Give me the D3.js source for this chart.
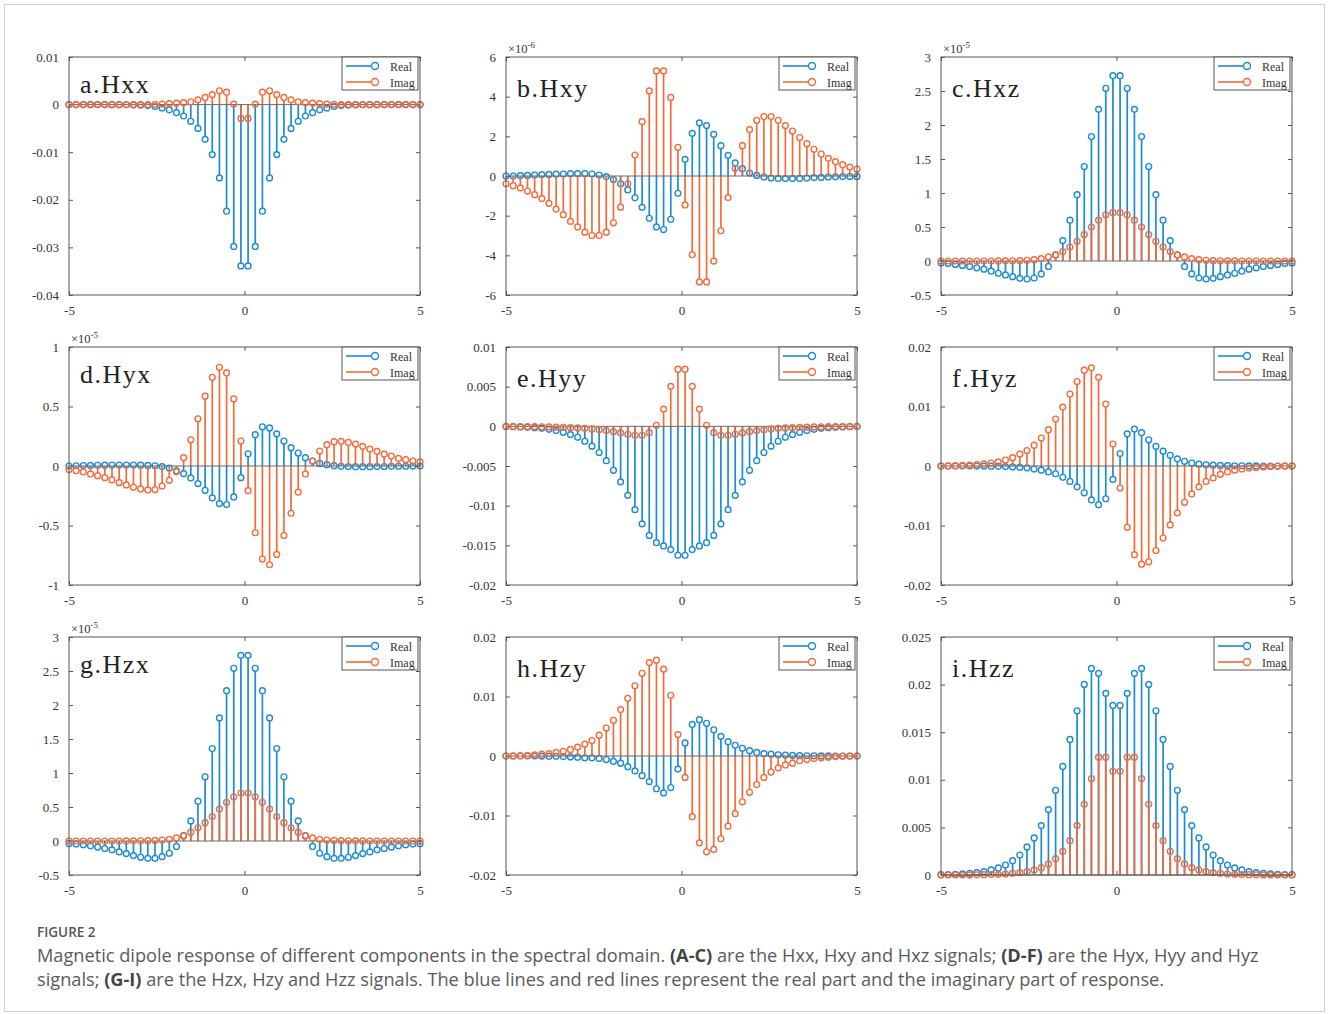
<!DOCTYPE html>
<html>
<head>
<meta charset="utf-8">
<script src="https://cdn.jsdelivr.net/npm/d3@7"></script>
<style>
  body { margin: 0; background: #fff; }
  svg { display: block; }
</style>
</head>
<body>
<svg id="fig" width="1328" height="1014"></svg>
<script>
// Spectral-domain sample positions (50 samples across [-5, 5])
const xGrid = [-5, -4.7959, -4.5918, -4.3878, -4.1837, -3.9796, -3.7755, -3.5714, -3.3673, -3.1633,
  -2.9592, -2.7551, -2.551, -2.3469, -2.1429, -1.9388, -1.7347, -1.5306, -1.3265, -1.1224,
  -0.9184, -0.7143, -0.5102, -0.3061, -0.102, 0.102, 0.3061, 0.5102, 0.7143, 0.9184,
  1.1224, 1.3265, 1.5306, 1.7347, 1.9388, 2.1429, 2.3469, 2.551, 2.7551, 2.9592,
  3.1633, 3.3673, 3.5714, 3.7755, 3.9796, 4.1837, 4.3878, 4.5918, 4.7959, 5];

// Hxx
const HxxReal = [0, 0, 0, 0, 0, 0, -0.00001, -0.00002, -0.00003, -0.00005,
  -0.0001, -0.0002, -0.0004, -0.0007, -0.0011, -0.0017, -0.0024, -0.0035, -0.005, -0.0073,
  -0.0105, -0.0154, -0.0224, -0.0298, -0.0339, -0.0339, -0.0298, -0.0224, -0.0154, -0.0105,
  -0.0073, -0.005, -0.0035, -0.0024, -0.0017, -0.0011, -0.0007, -0.0004, -0.0002, -0.0001,
  -0.00005, -0.00003, -0.00002, -0.00001, 0, 0, 0, 0, 0, 0];
const HxxImag = [0, 0, 0, 0, 0, 0, 0, 0, 0, 0,
  0, 0, 0.00005, 0.0001, 0.0002, 0.0003, 0.0004, 0.0006, 0.001, 0.0015,
  0.0021, 0.0029, 0.0026, 0.0001, -0.0029, -0.0029, 0.0001, 0.0026, 0.0029, 0.0021,
  0.0015, 0.001, 0.0006, 0.0004, 0.0003, 0.0002, 0.0001, 0.00005, 0, 0,
  0, 0, 0, 0, 0, 0, 0, 0, 0, 0];

// Hxy (x 1e-6)
const HxyReal = [0, 0, 0.02, 0.03, 0.05, 0.07, 0.08, 0.09, 0.1, 0.12,
  0.12, 0.12, 0.1, 0.05, -0.03, -0.18, -0.39, -0.7, -1.1, -1.58,
  -2.13, -2.57, -2.7, -2.18, -0.87, 0.84, 2.15, 2.68, 2.54, 2.1,
  1.53, 1.04, 0.66, 0.37, 0.15, 0.03, -0.05, -0.1, -0.13, -0.13,
  -0.13, -0.12, -0.1, -0.08, -0.07, -0.05, -0.04, -0.03, -0.02, -0.02];
const HxyImag = [-0.39, -0.49, -0.6, -0.76, -0.94, -1.14, -1.38, -1.67, -1.95, -2.29,
  -2.57, -2.83, -3.0, -3.0, -2.83, -2.36, -1.57, -0.39, 1.06, 2.74,
  4.29, 5.3, 5.3, 3.96, 1.45, -1.46, -3.97, -5.34, -5.34, -4.29,
  -2.76, -1.09, 0.39, 1.53, 2.34, 2.81, 3.0, 3.0, 2.81, 2.54,
  2.27, 1.94, 1.63, 1.35, 1.11, 0.89, 0.72, 0.57, 0.45, 0.35];

// Hxz (x 1e-5)
const HxzReal = [-0.03, -0.035, -0.05, -0.065, -0.08, -0.1, -0.12, -0.15, -0.18, -0.205,
  -0.23, -0.255, -0.265, -0.25, -0.19, -0.08, 0.09, 0.3, 0.6, 0.975,
  1.39, 1.83, 2.23, 2.54, 2.725, 2.725, 2.54, 2.23, 1.83, 1.39,
  0.975, 0.6, 0.3, 0.09, -0.08, -0.19, -0.25, -0.265, -0.255, -0.23,
  -0.205, -0.18, -0.15, -0.12, -0.1, -0.08, -0.065, -0.05, -0.035, -0.03];
const HxzImag = [0, 0, 0, 0, 0, 0, 0, 0, 0.001, 0.002,
  0.003, 0.005, 0.01, 0.02, 0.035, 0.06, 0.09, 0.14, 0.205, 0.29,
  0.39, 0.5, 0.6, 0.68, 0.71, 0.71, 0.68, 0.6, 0.5, 0.39,
  0.29, 0.205, 0.14, 0.09, 0.06, 0.035, 0.02, 0.01, 0.005, 0.003,
  0.002, 0.001, 0, 0, 0, 0, 0, 0, 0, 0];

// Hyx (x 1e-5)
const HyxReal = [0, 0.002, 0.004, 0.005, 0.006, 0.007, 0.008, 0.008, 0.008, 0.008,
  0.007, 0.005, 0.002, -0.005, -0.017, -0.04, -0.064, -0.1, -0.148, -0.204,
  -0.268, -0.316, -0.324, -0.26, -0.098, 0.103, 0.263, 0.33, 0.32, 0.27,
  0.21, 0.154, 0.109, 0.07, 0.042, 0.022, 0.011, 0.003, -0.003, -0.005,
  -0.006, -0.006, -0.006, -0.005, -0.004, -0.003, -0.002, -0.002, -0.001, 0];
const HyxImag = [-0.03, -0.04, -0.05, -0.067, -0.081, -0.098, -0.117, -0.14, -0.159, -0.179,
  -0.193, -0.201, -0.198, -0.168, -0.12, -0.047, 0.07, 0.22, 0.397, 0.587,
  0.746, 0.83, 0.782, 0.564, 0.21, -0.207, -0.561, -0.782, -0.83, -0.743,
  -0.584, -0.397, -0.22, -0.067, 0.042, 0.126, 0.179, 0.204, 0.207, 0.198,
  0.184, 0.165, 0.142, 0.123, 0.1, 0.084, 0.064, 0.053, 0.042, 0.034];

// Hyy
const HyyReal = [-0.00003, -0.00005, -0.00008, -0.00012, -0.00017, -0.00025, -0.00038, -0.00054, -0.00075, -0.00104,
  -0.00138, -0.00188, -0.0025, -0.0033, -0.00433, -0.00554, -0.007, -0.0087, -0.0105, -0.01229,
  -0.01375, -0.01467, -0.01508, -0.01554, -0.01625, -0.01625, -0.01554, -0.01508, -0.01467, -0.01375,
  -0.01229, -0.0105, -0.0087, -0.007, -0.00554, -0.00433, -0.0033, -0.0025, -0.00188, -0.00138,
  -0.00104, -0.00075, -0.00054, -0.00038, -0.00025, -0.00017, -0.00012, -0.00008, -0.00005, -0.00003];
const HyyImag = [0, -0.00001, -0.00002, -0.00003, -0.00004, -0.00005, -0.00007, -0.0001, -0.00013, -0.00017,
  -0.0002, -0.00025, -0.00033, -0.00042, -0.00054, -0.00067, -0.00083, -0.001, -0.00113, -0.00113,
  -0.0008, 0.00013, 0.00217, 0.00504, 0.0072, 0.0072, 0.00504, 0.00217, 0.00013, -0.0008,
  -0.00113, -0.00113, -0.001, -0.00083, -0.00067, -0.00054, -0.00042, -0.00033, -0.00025, -0.0002,
  -0.00017, -0.00013, -0.0001, -0.00007, -0.00005, -0.00004, -0.00003, -0.00002, -0.00001, 0];

// Hyz
const HyzReal = [0, 0, 0, 0, 0, -0.00001, -0.00002, -0.00003, -0.00005, -0.0001,
  -0.00015, -0.0002, -0.0003, -0.0005, -0.0007, -0.001, -0.0013, -0.0019, -0.0026, -0.0035,
  -0.0045, -0.0057, -0.0065, -0.0055, -0.00225, 0.0021, 0.0054, 0.0062, 0.0056, 0.0044,
  0.0033, 0.0025, 0.0018, 0.0012, 0.0008, 0.0005, 0.0003, 0.0002, 0.00015, 0.0001,
  0.00006, 0.00004, 0.00003, 0.00002, 0.00001, 0, 0, 0, 0, 0];
const HyzImag = [0, 0.00002, 0.00005, 0.0001, 0.00015, 0.00025, 0.00035, 0.0005, 0.0007, 0.001,
  0.0014, 0.002, 0.0026, 0.0035, 0.0047, 0.0061, 0.0079, 0.0099, 0.0121, 0.0142,
  0.0161, 0.0165, 0.0149, 0.0104, 0.0037, -0.0037, -0.0103, -0.0149, -0.0165, -0.0161,
  -0.0142, -0.0121, -0.0099, -0.0079, -0.0061, -0.0047, -0.0035, -0.0026, -0.002, -0.0014,
  -0.001, -0.0007, -0.0005, -0.00035, -0.00025, -0.00015, -0.0001, -0.00005, -0.00002, 0];

// Hzx (x 1e-5)
const HzxReal = [-0.04, -0.045, -0.055, -0.07, -0.09, -0.11, -0.13, -0.16, -0.185, -0.215,
  -0.24, -0.255, -0.255, -0.23, -0.18, -0.08, 0.08, 0.295, 0.585, 0.945,
  1.36, 1.81, 2.21, 2.54, 2.73, 2.73, 2.54, 2.21, 1.81, 1.36,
  0.945, 0.585, 0.295, 0.08, -0.08, -0.18, -0.23, -0.255, -0.255, -0.24,
  -0.215, -0.185, -0.16, -0.13, -0.11, -0.09, -0.07, -0.055, -0.045, -0.04];
const HzxImag = [0, 0, 0, 0, 0, 0, 0, 0, 0.001, 0.002,
  0.003, 0.005, 0.008, 0.015, 0.025, 0.045, 0.075, 0.13, 0.195, 0.27,
  0.36, 0.47, 0.57, 0.65, 0.705, 0.705, 0.65, 0.57, 0.47, 0.36,
  0.27, 0.195, 0.13, 0.075, 0.045, 0.025, 0.015, 0.008, 0.005, 0.003,
  0.002, 0.001, 0, 0, 0, 0, 0, 0, 0, 0];

// Hzy
const HzyReal = [0, 0, 0, 0, 0, -0.00002, -0.00003, -0.00005, -0.0001, -0.00015,
  -0.0002, -0.0003, -0.0003, -0.0004, -0.0006, -0.0009, -0.0012, -0.0018, -0.0025, -0.0033,
  -0.0043, -0.0055, -0.0062, -0.0053, -0.0022, 0.0022, 0.0053, 0.0061, 0.0055, 0.0044,
  0.0033, 0.0024, 0.0018, 0.0013, 0.0009, 0.0006, 0.0004, 0.0003, 0.0002, 0.00015,
  0.0001, 0.00006, 0.00004, 0.00003, 0.00002, 0.00001, 0, 0, 0, 0];
const HzyImag = [0, 0.00002, 0.00005, 0.0001, 0.0002, 0.0003, 0.0004, 0.0006, 0.0008, 0.0011,
  0.0015, 0.002, 0.0026, 0.0035, 0.0047, 0.006, 0.0078, 0.0097, 0.0118, 0.0139,
  0.0157, 0.0161, 0.0146, 0.0102, 0.0036, -0.0036, -0.0102, -0.0146, -0.0161, -0.0157,
  -0.0139, -0.0118, -0.0097, -0.0077, -0.0061, -0.0048, -0.0036, -0.0027, -0.002, -0.0015,
  -0.0012, -0.0008, -0.0006, -0.0004, -0.0003, -0.0002, -0.0001, -0.00005, -0.00002, 0];

// Hzz
const HzzReal = [0.00003, 0.00004, 0.00007, 0.00011, 0.00018, 0.00025, 0.00035, 0.00053, 0.00074, 0.00105,
  0.0015, 0.0021, 0.00295, 0.00389, 0.00519, 0.00687, 0.0089, 0.0114, 0.01424, 0.01725,
  0.02002, 0.0217, 0.02118, 0.01908, 0.01781, 0.01781, 0.01908, 0.02118, 0.0217, 0.02002,
  0.01725, 0.01424, 0.0114, 0.0089, 0.00687, 0.00519, 0.00389, 0.00295, 0.0021, 0.0015,
  0.00105, 0.00074, 0.00053, 0.00035, 0.00025, 0.00018, 0.00011, 0.00007, 0.00004, 0.00003];
const HzzImag = [0, 0, 0, 0, 0.00001, 0.00002, 0.00003, 0.00005, 0.00007, 0.0001,
  0.00018, 0.00025, 0.00035, 0.00053, 0.00077, 0.00116, 0.00172, 0.00249, 0.00361, 0.00519,
  0.00743, 0.01013, 0.01238, 0.01238, 0.0109, 0.0109, 0.01238, 0.01238, 0.01013, 0.00743,
  0.00519, 0.00361, 0.00249, 0.00172, 0.00116, 0.00077, 0.00053, 0.00035, 0.00025, 0.00018,
  0.0001, 0.00007, 0.00005, 0.00003, 0.00002, 0.00001, 0, 0, 0, 0];

// Axis ticks
const xTicks = [-5, 0, 5];
const ticksHxx = [-0.04, -0.03, -0.02, -0.01, 0, 0.01];
const ticksHxy = [-6, -4, -2, 0, 2, 4, 6];
const ticksHxz = [-0.5, 0, 0.5, 1, 1.5, 2, 2.5, 3];
const ticksHyx = [-1, -0.5, 0, 0.5, 1];
const ticksHyy = [-0.02, -0.015, -0.01, -0.005, 0, 0.005, 0.01];
const ticksHyz = [-0.02, -0.01, 0, 0.01, 0.02];
const ticksHzz = [0, 0.005, 0.01, 0.015, 0.02, 0.025];

const seriesNames = ["Real", "Imag"];

const panels = [
  { title: "a.Hxx", real: HxxReal, imag: HxxImag, ticks: ticksHxx, exp: null },
  { title: "b.Hxy", real: HxyReal, imag: HxyImag, ticks: ticksHxy, exp: "-6" },
  { title: "c.Hxz", real: HxzReal, imag: HxzImag, ticks: ticksHxz, exp: "-5" },
  { title: "d.Hyx", real: HyxReal, imag: HyxImag, ticks: ticksHyx, exp: "-5" },
  { title: "e.Hyy", real: HyyReal, imag: HyyImag, ticks: ticksHyy, exp: null },
  { title: "f.Hyz", real: HyzReal, imag: HyzImag, ticks: ticksHyz, exp: null },
  { title: "g.Hzx", real: HzxReal, imag: HzxImag, ticks: ticksHxz, exp: "-5" },
  { title: "h.Hzy", real: HzyReal, imag: HzyImag, ticks: ticksHyz, exp: null },
  { title: "i.Hzz", real: HzzReal, imag: HzzImag, ticks: ticksHzz, exp: null }
];

// ---- layout & style ----
const colLeft = [69, 506, 941];
const rowTop = [57, 347, 637];
const plotW = 351, plotH = 238;
const BLUE = "#1c8bd4", ORANGE = "#f36b3a";
const serif = "'Liberation Serif', 'Times New Roman', serif";
const R = 2.9;

const svg = d3.select("#fig");
svg.append("rect").attr("x", 4.5).attr("y", 4.5).attr("width", 1320).attr("height", 1007)
  .attr("fill", "#fff").attr("stroke", "#cfcfcf").attr("stroke-width", 1);

panels.forEach((p, idx) => {
  const col = idx % 3, row = Math.floor(idx / 3);
  const x0 = colLeft[col], y0 = rowTop[row];
  const g = svg.append("g").attr("transform", `translate(${x0},${y0})`);

  const x = d3.scaleLinear().domain([-5, 5]).range([0, plotW]);
  const y = d3.scaleLinear().domain(d3.extent(p.ticks)).range([plotH, 0]);

  const styleAxis = sel => {
    sel.select(".domain").remove();
    sel.selectAll("line").attr("stroke", "#555");
    sel.selectAll("text").attr("font-family", serif).attr("font-size", 13).attr("fill", "#333");
  };

  g.append("g").call(d3.axisLeft(y).tickValues(p.ticks).tickFormat(d => String(d))
    .tickSizeInner(-4).tickSizeOuter(0).tickPadding(10)).call(styleAxis);
  g.append("g").attr("transform", `translate(${plotW},0)`)
    .call(d3.axisRight(y).tickValues(p.ticks).tickFormat("").tickSizeInner(-4).tickSizeOuter(0))
    .call(styleAxis);
  g.append("g").attr("transform", `translate(0,${plotH})`)
    .call(d3.axisBottom(x).tickValues(xTicks).tickFormat(d => String(d))
      .tickSizeInner(-4).tickSizeOuter(0).tickPadding(11)).call(styleAxis);
  g.append("g")
    .call(d3.axisTop(x).tickValues(xTicks).tickFormat("").tickSizeInner(-4).tickSizeOuter(0))
    .call(styleAxis);

  // stems
  const drawStems = (vals, color) => {
    g.append("g").selectAll("line").data(vals).join("line")
      .attr("x1", (d, i) => x(xGrid[i])).attr("x2", (d, i) => x(xGrid[i]))
      .attr("y1", y(0))
      .attr("y2", d => {
        const yy = y(d), dy = y(0) - yy;
        return Math.abs(dy) > R ? yy + Math.sign(dy) * R : y(0);
      })
      .attr("stroke", color).attr("stroke-width", 1.7);
  };
  const drawMarkers = (vals, color) => {
    g.append("g").selectAll("circle").data(vals).join("circle")
      .attr("cx", (d, i) => x(xGrid[i])).attr("cy", d => y(d)).attr("r", R)
      .attr("fill", "none").attr("stroke", color).attr("stroke-width", 1.4);
  };
  drawStems(p.real, BLUE);
  drawMarkers(p.real, BLUE);
  drawStems(p.imag, ORANGE);
  g.append("line").attr("x1", 0).attr("x2", plotW).attr("y1", y(0)).attr("y2", y(0))
    .attr("stroke", "#6a6a6a").attr("stroke-width", 1);
  drawMarkers(p.imag, ORANGE);

  // box
  g.append("rect").attr("x", 0).attr("y", 0).attr("width", plotW).attr("height", plotH)
    .attr("fill", "none").attr("stroke", "#555").attr("stroke-width", 1);

  // exponent label
  if (p.exp) {
    const t = g.append("text").attr("x", 2).attr("y", -4)
      .attr("font-family", serif).attr("font-size", 12.5).attr("fill", "#333").text("\u00d710");
    t.append("tspan").attr("dy", -5).attr("font-size", 9).text(p.exp);
  }

  // panel title
  g.append("text").attr("x", 11).attr("y", col === 0 ? 36 : 40)
    .attr("font-family", serif).attr("font-size", 26).attr("letter-spacing", 1.5)
    .attr("fill", "#222").text(p.title);

  // legend
  const lw = 76, lh = 33;
  const lg = g.append("g").attr("transform", `translate(${plotW - 2 - lw},0)`);
  lg.append("rect").attr("width", lw).attr("height", lh).attr("fill", "#fff")
    .attr("stroke", "#555").attr("stroke-width", 1);
  [BLUE, ORANGE].forEach((c, k) => {
    const ly = 9 + k * 16;
    lg.append("line").attr("x1", 4).attr("x2", 34).attr("y1", ly).attr("y2", ly)
      .attr("stroke", c).attr("stroke-width", 1.6);
    lg.append("circle").attr("cx", 33).attr("cy", ly).attr("r", 3.5)
      .attr("fill", "#fff").attr("stroke", c).attr("stroke-width", 1.4);
    lg.append("text").attr("x", 48).attr("y", ly + 4.5)
      .attr("font-family", serif).attr("font-size", 12).attr("fill", "#333").text(seriesNames[k]);
  });
});

// ---- caption ----
const sans = "'Open Sans', 'Noto Sans', sans-serif";
svg.append("text").attr("x", 37).attr("y", 937).attr("font-family", sans)
  .attr("font-size", 13.5).attr("font-weight", 600).attr("fill", "#555").text("FIGURE 2");

const captionLines = [
  [["Magnetic dipole response of different components in the spectral domain. ", false], ["(A-C)", true],
   [" are the Hxx, Hxy and Hxz signals; ", false], ["(D-F)", true], [" are the Hyx, Hyy and Hyz", false]],
  [["signals; ", false], ["(G-I)", true],
   [" are the Hzx, Hzy and Hzz signals. The blue lines and red lines represent the real part and the imaginary part of response.", false]]
];
captionLines.forEach((parts, li) => {
  const t = svg.append("text").attr("x", 37).attr("y", 962 + li * 24)
    .attr("font-family", sans).attr("font-size", 18.2).attr("fill", "#5a5a5a");
  parts.forEach(([s, b]) => {
    const ts = t.append("tspan").text(s);
    if (b) ts.attr("font-weight", 700).attr("fill", "#444");
  });
});
</script>
</body>
</html>
